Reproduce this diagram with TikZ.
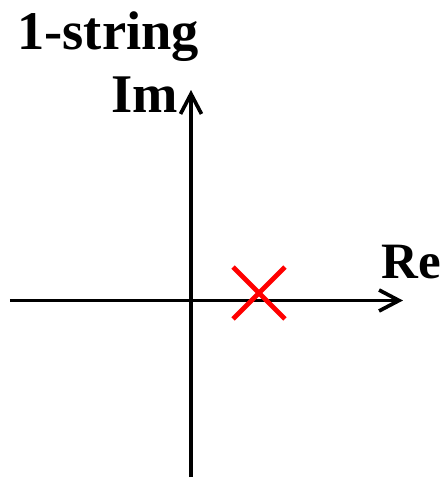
\documentclass[tikz,border=0pt]{standalone}
\usepackage{fontspec}
\setmainfont{Liberation Serif}
\usepackage{tikz}
\usetikzlibrary{arrows.meta,shapes.misc}
\tikzset{
  ax/.style  = {line width=2.1pt, -{Straight Barb[length=4mm,width=4.2mm]}},
  lb/.style  = {font=\bfseries\fontsize{31}{34}\selectfont, inner sep=0pt, anchor=base west},
  pl/.style  = {cross out, draw=red, line width=2.8pt, minimum size=9.4mm, inner sep=0pt},
}
\begin{document}
\begin{tikzpicture}[x=0.02cm, y=-0.02cm]
\useasboundingbox (0,0) rectangle (448,478);

% axes
\coordinate (xl) at (10,300.5);
\coordinate (xr) at (403,300.5);
\coordinate (yb) at (191,477);
\coordinate (yt) at (191,90);
\draw[ax] (xl) -- (xr);
\draw[ax] (yb) -- (yt);

% labels
\node[lb] (title) at (17,49)    {1-string};
\node[lb] (im)    at (111,112.5) {Im};
\node[lb, font=\bfseries\fontsize{29}{32}\selectfont] (re) at (381,278) {Re};

% pole on the real axis
\node[pl] (pole) at (259,293) {};

\end{tikzpicture}
\end{document}
